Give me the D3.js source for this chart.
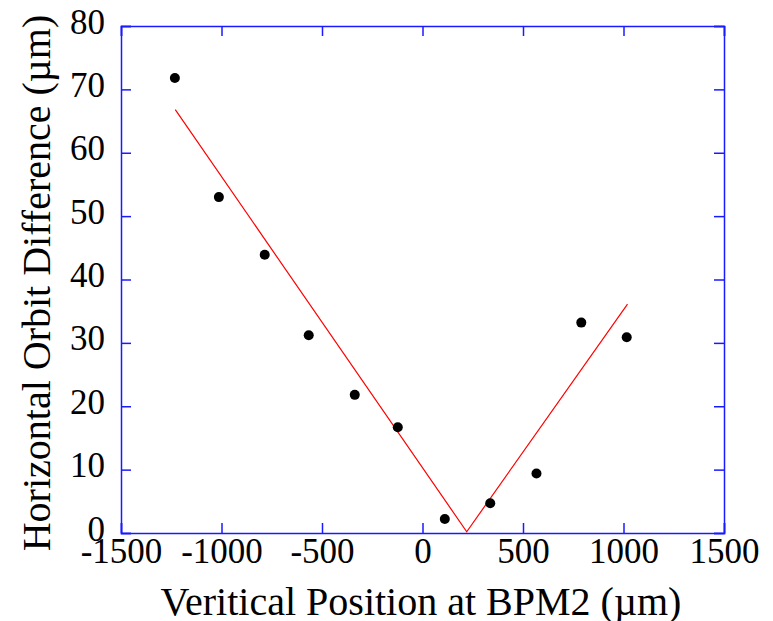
<!DOCTYPE html>
<html>
<head>
<meta charset="utf-8">
<script src="https://cdn.jsdelivr.net/npm/d3@7"></script>
<style>
  body { margin: 0; background: #fff; }
  text { font-family: "Liberation Serif", "Times New Roman", serif; fill: #000; }
</style>
</head>
<body>
<div id="chart"></div>
<script>
// measured points
var posX = [-1232, -1013, -785, -566, -337, -123, 111, 337, 567, 790, 1016];
var orbitDiff = [71.8, 53.0, 43.9, 31.2, 21.8, 16.7, 2.2, 4.7, 9.4, 33.2, 30.9];

// V-shaped fit line
var fitX = [-1230, 220, 1020];
var fitY = [66.8, 0.2, 36.1];

var xTicks = [-1500, -1000, -500, 0, 500, 1000, 1500];
var yTicks = [0, 10, 20, 30, 40, 50, 60, 70, 80];

var margin = { top: 26, right: 49, bottom: 88, left: 121 },
    width  = 773 - margin.left - margin.right,
    height = 621 - margin.top - margin.bottom;

var svg = d3.select("#chart").append("svg")
    .attr("width", 773)
    .attr("height", 621)
  .append("g")
    .attr("transform", "translate(" + margin.left + "," + margin.top + ")");

var x = d3.scaleLinear().domain([-1500, 1500]).range([0, width]);
var y = d3.scaleLinear().domain([0, 80]).range([height, 0]);

var axisColor = "#1a1aff";
var tickLen = 10;
var plain = function(d) { return String(d); };

// axes on all four sides, ticks pointing inward
var bottom = svg.append("g")
    .attr("transform", "translate(0," + height + ")")
    .call(d3.axisBottom(x).tickValues(xTicks).tickSize(-tickLen).tickPadding(0).tickFormat(plain));
var top = svg.append("g")
    .call(d3.axisTop(x).tickValues(xTicks).tickSize(-tickLen).tickFormat(""));
var left = svg.append("g")
    .call(d3.axisLeft(y).tickValues(yTicks).tickSize(-tickLen).tickPadding(16).tickFormat(plain));
var right = svg.append("g")
    .attr("transform", "translate(" + width + ",0)")
    .call(d3.axisRight(y).tickValues(yTicks).tickSize(-tickLen).tickFormat(""));

svg.selectAll("g").attr("font-family", null);
svg.selectAll(".domain").attr("stroke", axisColor).attr("stroke-width", 1.5);
svg.selectAll(".tick line").attr("stroke", axisColor).attr("stroke-width", 1.5);
svg.selectAll(".tick text").attr("fill", "#000").style("font-size", "35px");
bottom.selectAll(".tick text").attr("y", 30).attr("dy", 0);
left.selectAll(".tick text").attr("dy", 7);

// fit line
var line = d3.line()
    .x(function(d) { return x(d[0]); })
    .y(function(d) { return y(d[1]); });

svg.append("path")
    .attr("d", line(d3.zip(fitX, fitY)))
    .attr("fill", "none")
    .attr("stroke", "#ff0000")
    .attr("stroke-width", 1.2);

// points
svg.selectAll("circle.pt")
    .data(d3.zip(posX, orbitDiff))
  .enter().append("circle")
    .attr("class", "pt")
    .attr("cx", function(d) { return x(d[0]); })
    .attr("cy", function(d) { return y(d[1]); })
    .attr("r", 5)
    .attr("fill", "#000");

// x axis label
svg.append("text")
    .attr("x", 300)
    .attr("y", 589)
    .style("text-anchor", "middle")
    .style("font-size", "40px")
    .text("Veritical Position at BPM2 (µm)");

// y axis label
svg.append("text")
    .attr("transform", "rotate(-90)")
    .attr("x", -257)
    .attr("y", -71)
    .style("text-anchor", "middle")
    .style("font-size", "40px")
    .text("Horizontal Orbit Difference (µm)");
</script>
</body>
</html>
